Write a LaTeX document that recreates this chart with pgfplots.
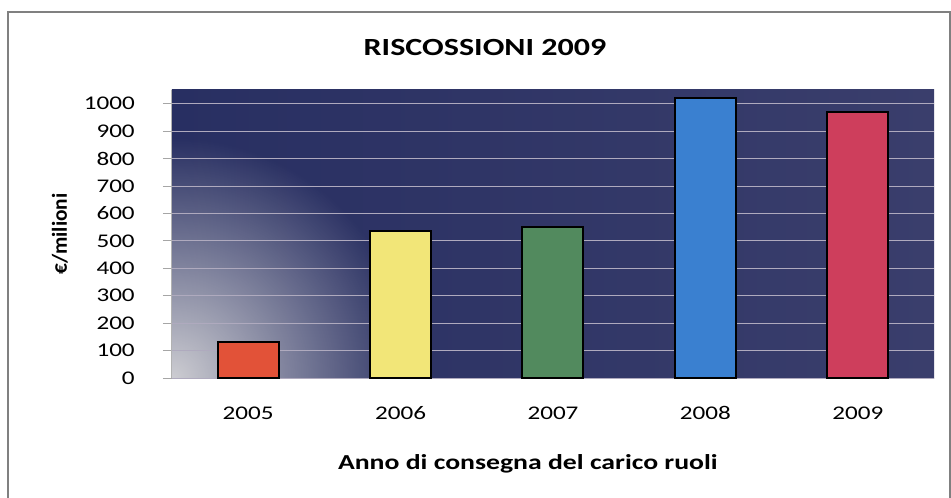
\documentclass[border=0pt]{standalone}
\usepackage{fontspec}
\setmainfont{Carlito}[FakeStretch=1.3]
\newfontfamily\ylfont{Carlito}
\usepackage{pgfplots}
\pgfplotsset{compat=1.18}
\usetikzlibrary{fadings}
\tikzfading[name=cornerfade, inner color=transparent!0, outer color=transparent!100]
\definecolor{navyL}{RGB}{40,47,98}
\definecolor{navyR}{RGB}{58,62,108}
\definecolor{cornerc}{RGB}{205,205,210}
\definecolor{gridc}{RGB}{175,170,190}
\definecolor{c05}{RGB}{226,82,56}
\definecolor{c06}{RGB}{242,230,120}
\definecolor{c07}{RGB}{82,138,94}
\definecolor{c08}{RGB}{58,128,208}
\definecolor{c09}{RGB}{206,62,92}
\definecolor{framec}{RGB}{128,128,128}
\begin{document}
\begin{tikzpicture}
\useasboundingbox (-129pt,-89.25pt) rectangle (584.25pt,283.5pt);
\fill[white] (-129pt,-89.25pt) rectangle (584.25pt,283.5pt);
\draw[framec, line width=1.2pt] (-123pt,-95pt) rectangle (583.3pt,274.5pt);
\begin{scope}
\clip (0pt,0pt) rectangle (571.5pt,216pt);
\fill[left color=navyL, right color=navyR] (0pt,0pt) rectangle (571.5pt,216pt);
\fill[cornerc, path fading=cornerfade] (0pt,0pt) circle (180pt);
\end{scope}
\begin{axis}[
  at={(0pt,0pt)}, anchor=south west,
  scale only axis, width=571.5pt, height=216pt,
  xmin=-0.5, xmax=4.5, ymin=0, ymax=1050,
  xtick={0,1,2,3,4}, xticklabels={2005,2006,2007,2008,2009},
  ytick={0,100,...,1000},
  /pgf/number format/assume math mode=true,
  /pgf/number format/1000 sep={},
  ticklabel style={font=\fontsize{14.5}{17}\selectfont},
  xticklabel style={anchor=north, inner sep=0pt, text height=9.2pt, text depth=0pt, yshift=-15pt},
  yticklabel style={anchor=east, inner sep=0pt, xshift=-21pt},
  xtick style={draw=none},
  ytick style={draw=gray!70, line width=0.75pt},
  tick align=outside, major tick length=6.75pt,
  axis lines*=left,
  x axis line style={draw=none},
  y axis line style={draw=gray!60, line width=0.75pt},
  ymajorgrids, grid style={gridc, line width=0.75pt},
  ybar, bar width=45.75pt, bar shift=0pt,
  ylabel={\ylfont\bfseries\fontsize{16}{19}\selectfont €/milioni},
  ylabel style={at={(axis description cs:-0.147,0.5)}, anchor=center, rotate=0},
  xlabel={\bfseries\fontsize{16}{19}\selectfont Anno di consegna del carico ruoli},
  xlabel style={at={(axis description cs:0.467,-0.297)}, anchor=center},
  clip=false,
]
\addplot[fill=c05, draw=black, line width=1.5pt] coordinates {(0,131)};
\addplot[fill=c06, draw=black, line width=1.5pt] coordinates {(1,536)};
\addplot[fill=c07, draw=black, line width=1.5pt] coordinates {(2,552)};
\addplot[fill=c08, draw=black, line width=1.5pt] coordinates {(3,1022)};
\addplot[fill=c09, draw=black, line width=1.5pt] coordinates {(4,971)};
\end{axis}
\node[font=\bfseries\fontsize{18.5}{22}\selectfont] at (234.75pt,248.25pt) {RISCOSSIONI 2009};
\end{tikzpicture}
\end{document}
